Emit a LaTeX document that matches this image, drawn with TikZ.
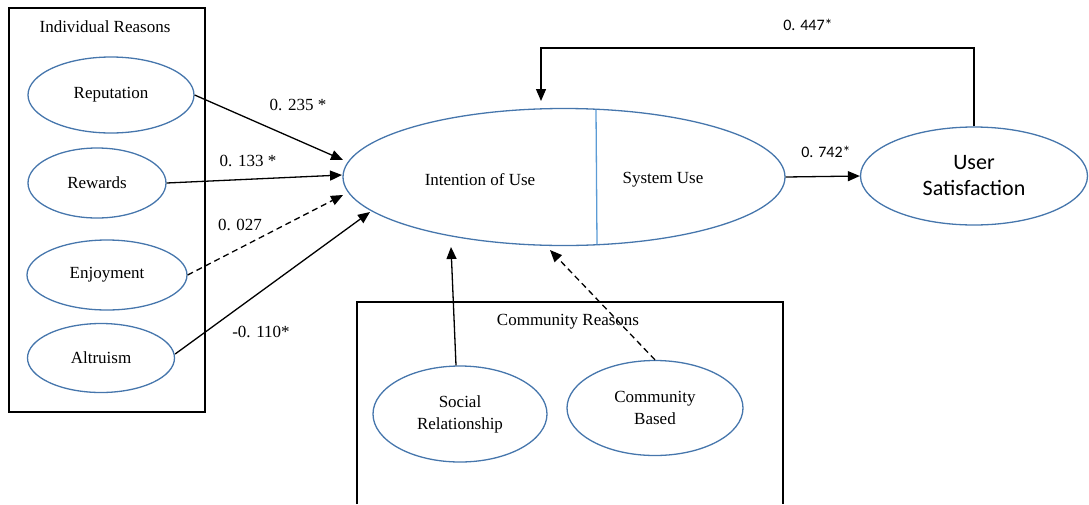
\documentclass[tikz,border=0pt]{standalone}
\usepackage{fontspec}
\setmainfont{Liberation Serif}
\newfontfamily\calibri{Carlito}
\usetikzlibrary{arrows.meta,shapes.geometric}

\definecolor{ovalblue}{RGB}{70,118,172}
\definecolor{splitblue}{RGB}{91,155,213}

\tikzset{
  oval/.style={ellipse, draw=ovalblue, line width=1.3pt, inner sep=0pt,
    align=center, font=\fontsize{17}{22}\selectfont},
  groupbox/.style={draw=black, line width=1.3pt},
  path/.style={draw=black, line width=1.3pt,
    -{Triangle[length=12pt,width=10pt]}},
  weakpath/.style={path, dash pattern=on 6pt off 4pt},
  serif/.style={font=\fontsize{17}{20}\selectfont, inner sep=0pt},
  sans/.style={font=\calibri\fontsize{16}{20}\selectfont, inner sep=0pt}
}

\begin{document}
\begin{tikzpicture}[x=1pt,y=-1pt]
  \useasboundingbox (0,0) rectangle (1089,504);

  % Individual reasons group
  \draw[groupbox] (9,8) rectangle (205,412);
  \node[serif] (indiv) at (105,27) {Individual Reasons};
  \node[oval, minimum width=166pt, minimum height=76pt] (rep) at (111,95) {Reputation};
  \node[oval, minimum width=138pt, minimum height=70pt] (rew) at (97,183) {Rewards};
  \node[oval, minimum width=160pt, minimum height=70pt] (enj) at (107,275) {Enjoyment};
  \node[oval, minimum width=147pt, minimum height=69pt] (alt) at (101,358) {Altruism};

  % Community reasons group (runs past the lower edge)
  \draw[groupbox] (357,504) -- (357,302) -- (783,302) -- (783,504);
  \node[serif] (comm) at (568,322) {Community Reasons};
  \node[oval, minimum width=174pt, minimum height=96pt] (soc) at (460,414) {Social\\Relationship};
  \node[oval, minimum width=176pt, minimum height=95pt] (cb) at (655,408) {Community\\Based};

  % Intention of use / system use
  \node[oval, minimum width=442pt, minimum height=137pt] (iu) at (564,177) {};
  \draw[splitblue, line width=1.3pt] (iu.center) ++(32,-67.3) -- ++(1,134.6);
  \node[serif] (intent) at (480,180) {Intention of Use};
  \node[serif] (sysuse) at (663,180) {System Use};

  % User satisfaction
  \node[oval, minimum width=227pt, minimum height=98pt,
        font=\calibri\fontsize{22}{26}\selectfont] (us) at (974,176) {User\\Satisfaction};

  % arrow end points
  \coordinate (tipRep) at (343,160);
  \coordinate (tipRew) at (342,175);
  \coordinate (tipEnj) at (343,195);
  \coordinate (tipAlt) at (370,212);
  \coordinate (tipSoc) at (451,247);
  \coordinate (tipCb) at (550,250);
  \coordinate (fbCorner) at (541,48);
  \coordinate (tipFb) at (541,101);

  % paths
  \draw[path] (rep.east) -- (tipRep);
  \draw[path] (rew.east) -- (tipRew);
  \draw[weakpath] (enj.east) -- (tipEnj);
  \draw[path] (alt.east) ++(0,-4) -- (tipAlt);
  \draw[path] (soc.north) ++(-4,0) -- (tipSoc);
  \draw[weakpath] (cb.north) -- (tipCb);
  \draw[path] (iu.east) -- (us.west);
  \draw[path] (us.north) |- (fbCorner) -- (tipFb);

  % coefficients
  \node[serif] (cRep) at (298,105) {0. 235 *};
  \node[serif] (cRew) at (248,161) {0. 133 *};
  \node[serif] (cEnj) at (240,225) {0. 027};
  \node[serif] (cAlt) at (261,332) {-0. 110*};
  \node[sans] (cUse) at (826,152) {0. 742*};
  \node[sans] (cFb) at (808,25) {0. 447*};
\end{tikzpicture}
\end{document}
